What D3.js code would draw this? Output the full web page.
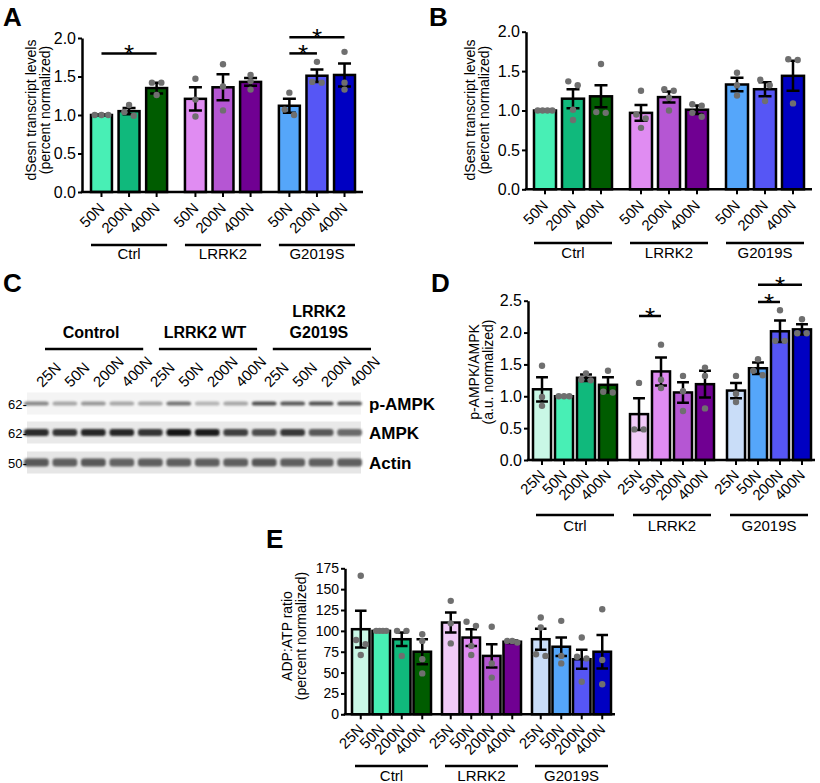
<!DOCTYPE html>
<html><head><meta charset="utf-8">
<script src="https://cdn.jsdelivr.net/npm/d3@7"></script>
<style>
body{margin:0;background:#fff;}
svg text{font-family:"Liberation Sans",Arial,Helvetica,sans-serif;}
</style></head><body>
<svg id="fig" width="820" height="783"></svg>
<script>
// ---------------- DATA ----------------
const groups = ["Ctrl", "LRRK2", "G2019S"];
const dosesAB = ["50N", "200N", "400N"];
const dosesDE = ["25N", "50N", "200N", "400N"];

const yTicksAB = [0, 0.5, 1.0, 1.5, 2.0];
const yTicksD = [0, 0.5, 1.0, 1.5, 2.0, 2.5];
const yTicksE = [0, 25, 50, 75, 100, 125, 150, 175];

// Panel A: dSesn transcript levels
const aMeans = [[1.00, 1.05, 1.35], [1.21, 1.36, 1.43], [1.12, 1.51, 1.52]];
const aSem = [[0.005, 0.04, 0.07], [0.15, 0.17, 0.05], [0.09, 0.08, 0.15]];
const aPoints = [
  [[1.0, 1.0, 1.0], [0.99, 1.13, 1.04], [1.42, 1.42, 1.26]],
  [[1.47, 0.98, 1.20], [1.66, 1.06, 1.37], [1.52, 1.33, 1.44]],
  [[1.29, 1.00, 1.07], [1.69, 1.42, 1.43], [1.82, 1.33, 1.42]]
];
const aSig = [
  { g: "Ctrl", from: "50N", to: "400N", v: 1.80 },
  { g: "G2019S", from: "50N", to: "200N", v: 1.80 },
  { g: "G2019S", from: "50N", to: "400N", v: 2.01 }
];

// Panel B: dSesn transcript levels
const bMeans = [[1.00, 1.15, 1.18], [0.97, 1.17, 1.01], [1.33, 1.27, 1.44]];
const bSem = [[0.005, 0.12, 0.14], [0.10, 0.07, 0.055], [0.085, 0.09, 0.19]];
const bPoints = [
  [[1, 1, 1, 1], [1.32, 1.37, 0.88, 1.01], [1.59, 0.98, 0.97]],
  [[1.25, 0.90, 0.78, 0.95], [1.27, 1.25, 1.00, 1.16], [1.08, 1.06, 0.92, 0.97]],
  [[1.48, 1.19, 1.32], [1.39, 1.32, 1.12], [1.65, 1.64, 1.09]]
];
const bSig = [];

// Panel D: p-AMPK/AMPK
const dMeans = [[1.11, 1.00, 1.29, 1.18], [0.72, 1.39, 1.06, 1.19], [1.09, 1.44, 2.02, 2.05]];
const dSem = [[0.19, 0.005, 0.05, 0.12], [0.25, 0.22, 0.16, 0.21], [0.12, 0.09, 0.17, 0.08]];
const dPoints = [
  [[1.48, 0.99, 0.85], [1, 1, 1], [1.36, 1.26, 1.25], [1.40, 1.06, 1.07]],
  [[1.21, 0.48, 0.48], [1.81, 1.26, 1.13], [1.32, 1.08, 0.77], [1.45, 1.32, 0.81]],
  [[1.32, 1.04, 0.91], [1.58, 1.40, 1.33], [2.35, 1.87, 1.87], [2.21, 1.99, 1.99]]
];
const dSig = [
  { g: "LRRK2", from: "25N", to: "50N", v: 2.26 },
  { g: "G2019S", from: "50N", to: "200N", v: 2.48 },
  { g: "G2019S", from: "50N", to: "400N", v: 2.75 }
];

// Panel E: ADP:ATP ratio
const eMeans = [[102, 100, 90, 75], [110, 92, 70, 87], [90, 81, 66, 75]];
const eSem = [[22, 0.5, 8, 15], [12, 10, 14, 1.5], [12.5, 11, 11.5, 20]];
const ePoints = [
  [[166, 89, 84, 71], [100, 100, 100, 100], [100, 100, 70], [96, 88, 66, 49]],
  [[136, 85, 109], [106, 111, 71, 82], [105, 44, 61], [86, 88, 88]],
  [[116, 70, 72, 104], [112, 61, 70], [92, 69, 67, 39], [126, 65, 36]]
];
const eSig = [];

// Panel C: western blot
const blotGroups = [["Control"], ["LRRK2 WT"], ["LRRK2", "G2019S"]];
const blotLanes = ["25N", "50N", "200N", "400N", "25N", "50N", "200N", "400N", "25N", "50N", "200N", "400N"];
const blotRows = ["p-AMPK", "AMPK", "Actin"];
const blotMarkers = ["62-", "62-", "50-"];
const pAmpkBand = [0.55, 0.45, 0.50, 0.45, 0.45, 0.62, 0.40, 0.45, 0.75, 0.72, 0.75, 0.72];
const ampkBand = [0.86, 0.83, 0.88, 0.87, 0.83, 0.92, 0.90, 0.80, 0.76, 0.82, 0.72, 0.66];
const actinBand = [0.72, 0.70, 0.72, 0.68, 0.70, 0.70, 0.70, 0.70, 0.73, 0.70, 0.70, 0.70];

// ---------------- STYLE ----------------
const palette = {
  "Ctrl": { "25N": "#c9f7e6", "50N": "#48efb5", "200N": "#10b97c", "400N": "#005c00" },
  "LRRK2": { "25N": "#f1cbf8", "50N": "#e08cf2", "200N": "#b556d3", "400N": "#700092" },
  "G2019S": { "25N": "#c9ddf8", "50N": "#55a6fa", "200N": "#5656f5", "400N": "#0000c2" }
};
const FONT = '"Liberation Sans", Arial, Helvetica, sans-serif';
const svg = d3.select("#fig");
const defs = svg.append("defs");
defs.append("filter").attr("id", "blur").attr("x", "-30%").attr("y", "-100%").attr("width", "160%").attr("height", "300%")
  .append("feGaussianBlur").attr("stdDeviation", 1.1);

function drawPanel(c) {
  const g = svg.append("g");
  const y = d3.scaleLinear().domain([0, c.yMax]).range([c.yBottom, c.yTop]);
  const xg = d3.scaleBand().domain(groups).range(c.barRange).paddingInner(c.outerPad).paddingOuter(0);
  const xi = d3.scaleBand().domain(c.doses).range([0, xg.bandwidth()]).paddingInner(c.innerPad).paddingOuter(0);
  const bw = xi.bandwidth();
  const rows = [];
  groups.forEach((gr, gi) => c.doses.forEach((d, di) => rows.push({
    gr, d, m: c.means[gi][di], s: c.sem[gi][di], p: c.pts[gi][di],
    x0: xg(gr) + xi(d), cx: xg(gr) + xi(d) + bw / 2
  })));
  const y0 = y(0);

  g.append("g").selectAll("rect").data(rows).join("rect")
    .attr("x", r => r.x0).attr("y", r => y(r.m)).attr("width", bw).attr("height", r => y0 - y(r.m))
    .attr("fill", r => palette[r.gr][r.d]).attr("stroke", "#000").attr("stroke-width", 2.5);

  const cap = Math.min(13, bw * 0.66);
  g.append("g").attr("stroke", "#000").attr("stroke-width", 2.5).attr("fill", "none")
    .selectAll("path").data(rows).join("path")
    .attr("d", r => {
      const t = y(r.m + r.s), b = y(r.m - r.s);
      return `M${r.cx - cap / 2},${t}H${r.cx + cap / 2}M${r.cx},${t}V${b}M${r.cx - cap / 2},${b}H${r.cx + cap / 2}`;
    });

  const dots = [];
  rows.forEach(r => {
    const items = r.p.map(v => ({ v, py: y(v) })).sort((a, b) => a.py - b.py);
    const clusters = []; let cl = [];
    items.forEach(it => {
      if (cl.length && it.py - cl[cl.length - 1].py > c.r * 1.8) { clusters.push(cl); cl = []; }
      cl.push(it);
    });
    if (cl.length) clusters.push(cl);
    clusters.forEach(cs => {
      const n = cs.length;
      const sp = n > 1 ? Math.min(2 * c.r + 3, (bw - 2 * c.r - 1) / (n - 1)) : 0;
      cs.forEach((it, k) => dots.push({ x: r.cx + (k - (n - 1) / 2) * sp, y: it.py }));
    });
  });
  g.append("g").selectAll("circle").data(dots).join("circle")
    .attr("cx", d => d.x).attr("cy", d => d.y).attr("r", c.r).attr("fill", "#6f6f6f");

  const ya = d3.axisLeft(y).tickValues(c.ticks).tickFormat(c.fmt).tickSize(4).tickSizeOuter(0).tickPadding(2);
  const yg = g.append("g").attr("transform", `translate(${c.axisX[0]},0)`).call(ya)
    .attr("font-family", FONT).attr("font-size", c.tickFont);
  yg.select(".domain").attr("stroke-width", 2.5);
  yg.selectAll(".tick line").attr("stroke-width", 2);
  yg.selectAll(".tick text").attr("fill", "#000");

  g.append("line").attr("x1", c.axisX[0] - 1.2).attr("x2", c.axisX[1]).attr("y1", y0).attr("y2", y0)
    .attr("stroke", "#000").attr("stroke-width", 2.5);
  g.append("g").selectAll("line").data(rows).join("line")
    .attr("x1", r => r.cx).attr("x2", r => r.cx).attr("y1", y0).attr("y2", y0 + 5)
    .attr("stroke", "#000").attr("stroke-width", 2);
  g.append("g").selectAll("text").data(rows).join("text")
    .attr("transform", r => `translate(${r.cx + c.xlab[0]},${y0 + c.xlab[1]}) rotate(-45)`)
    .attr("text-anchor", "end").attr("font-size", c.xFont).text(r => r.d);

  g.append("g").selectAll("line").data(groups).join("line")
    .attr("x1", gr => xg(gr) + c.ginset).attr("x2", gr => xg(gr) + xg.bandwidth() - c.ginset)
    .attr("y1", c.glineY).attr("y2", c.glineY).attr("stroke", "#000").attr("stroke-width", 2.5);
  g.append("g").selectAll("text").data(groups).join("text")
    .attr("x", gr => xg(gr) + xg.bandwidth() / 2).attr("y", c.glabY)
    .attr("text-anchor", "middle").attr("font-size", c.gFont).text(gr => gr);

  const yl = g.append("text").attr("transform", `translate(${c.ylabX},${c.ylabY}) rotate(-90)`)
    .attr("text-anchor", "middle").attr("font-size", 14);
  c.ylab.forEach((t, i) => yl.append("tspan").attr("x", 0).attr("y", i * c.ylabGap).text(t));

  c.sig.forEach(s => {
    const x1 = xg(s.g) + xi(s.from) + bw / 2, x2 = xg(s.g) + xi(s.to) + bw / 2, yy = y(s.v);
    g.append("line").attr("x1", x1).attr("x2", x2).attr("y1", yy).attr("y2", yy)
      .attr("stroke", "#000").attr("stroke-width", 2.5);
    g.append("text").attr("x", (x1 + x2) / 2).attr("y", yy + 10).attr("text-anchor", "middle")
      .attr("font-size", 26).text("*");
  });

  g.append("text").attr("x", c.letter[1]).attr("y", c.letter[2]).attr("font-size", 26)
    .attr("font-weight", "bold").text(c.letter[0]);
}

const f1 = d3.format(".1f");
drawPanel({
  letter: ["A", 3, 26], means: aMeans, sem: aSem, pts: aPoints, sig: aSig, doses: dosesAB,
  yMax: 2, ticks: yTicksAB, fmt: f1, axisX: [82, 363], yTop: 38, yBottom: 192,
  barRange: [91, 355], outerPad: 0.19, innerPad: 0.24, r: 3.2,
  ylab: ["dSesn transcript levels", "(percent normalized)"], ylabX: 36, ylabY: 110, ylabGap: 14,
  xlab: [4, 17], xFont: 15, glineY: 245, glabY: 259, ginset: 0, gFont: 15, tickFont: 16
});
drawPanel({
  letter: ["B", 429, 26], means: bMeans, sem: bSem, pts: bPoints, sig: bSig, doses: dosesAB,
  yMax: 2, ticks: yTicksAB, fmt: f1, axisX: [526, 812], yTop: 31.7, yBottom: 189.3,
  barRange: [534, 804], outerPad: 0.1875, innerPad: 0.214, r: 3.2,
  ylab: ["dSesn transcript levels", "(percent normalized)"], ylabX: 475, ylabY: 110, ylabGap: 14,
  xlab: [4, 17], xFont: 15, glineY: 243, glabY: 258, ginset: 0, gFont: 15, tickFont: 16
});
drawPanel({
  letter: ["D", 431, 292], means: dMeans, sem: dSem, pts: dPoints, sig: dSig, doses: dosesDE,
  yMax: 2.5, ticks: yTicksD, fmt: f1, axisX: [528, 815], yTop: 300.7, yBottom: 460,
  barRange: [533, 811], outerPad: 0.134, innerPad: 0.18, r: 3.2,
  ylab: ["p-AMPK/AMPK", "(a.u. normalized)"], ylabX: 479, ylabY: 372, ylabGap: 14,
  xlab: [4, 16], xFont: 15, glineY: 515, glabY: 531, ginset: 3, gFont: 15, tickFont: 16
});
drawPanel({
  letter: ["E", 266, 548], means: eMeans, sem: eSem, pts: ePoints, sig: eSig, doses: dosesDE,
  yMax: 175, ticks: yTicksE, fmt: d3.format("d"), axisX: [345, 615], yTop: 568.3, yBottom: 714.3,
  barRange: [352, 611], outerPad: 0.122, innerPad: 0.146, r: 3.2,
  ylab: ["ADP:ATP ratio", "(percent normalized)"], ylabX: 292, ylabY: 636, ylabGap: 14,
  xlab: [4, 16], xFont: 15, glineY: 766, glabY: 781, ginset: 3, gFont: 15, tickFont: 14
});

// ---------------- PANEL C: blot ----------------
(function drawBlot() {
  const g = svg.append("g");
  const lane = d3.scaleBand().domain(d3.range(blotLanes.length)).range([25, 361]).paddingInner(0.2);
  const rowY = d3.scaleOrdinal().domain(blotRows).range([403.5, 432.5, 462.5]);
  const rowBg = { "p-AMPK": "#f4f4f4", "AMPK": "#e9e9e9", "Actin": "#e6e6e6" };
  const rowH = { "p-AMPK": 4, "AMPK": 7, "Actin": 8 };
  const rowInt = { "p-AMPK": pAmpkBand, "AMPK": ampkBand, "Actin": actinBand };

  g.append("text").attr("x", 3).attr("y", 292).attr("font-size", 26).attr("font-weight", "bold").text("C");

  blotRows.forEach((rname, ri) => {
    const cy = rowY(rname);
    g.append("rect").attr("x", 27).attr("y", cy - 11).attr("width", 334).attr("height", 22).attr("fill", rowBg[rname]);
    g.append("g").attr("filter", "url(#blur)").selectAll("rect").data(rowInt[rname]).join("rect")
      .attr("x", (v, i) => lane(i) - 1).attr("y", cy - rowH[rname] / 2)
      .attr("width", lane.bandwidth() + 2).attr("height", rowH[rname]).attr("rx", 3)
      .attr("fill", v => d3.interpolateGreys(v));
    g.append("text").attr("x", 8).attr("y", cy + 5).attr("font-size", 13).text(blotMarkers[ri]);
    g.append("text").attr("x", 369).attr("y", cy + 6).attr("font-size", 17).attr("font-weight", "bold").text(rname);
  });

  g.append("g").selectAll("text").data(blotLanes).join("text")
    .attr("transform", (d, i) => `translate(${lane(i) + lane.bandwidth() / 2 + 6},388) rotate(-45)`)
    .attr("text-anchor", "start").attr("font-size", 15).text(d => d);

  blotGroups.forEach((lines, gi) => {
    const x1 = lane(gi * 4) + 20, x2 = lane(gi * 4 + 3) + lane.bandwidth() + 10;
    g.append("line").attr("x1", x1).attr("x2", x2).attr("y1", 349).attr("y2", 349)
      .attr("stroke", "#000").attr("stroke-width", 2.6);
    lines.forEach((t, li) => {
      g.append("text").attr("x", (x1 + x2) / 2 - 3).attr("y", 338 - (lines.length - 1 - li) * 21)
        .attr("text-anchor", "middle").attr("font-size", 16).attr("font-weight", "bold").text(t);
    });
  });
})();
</script>
</body></html>
